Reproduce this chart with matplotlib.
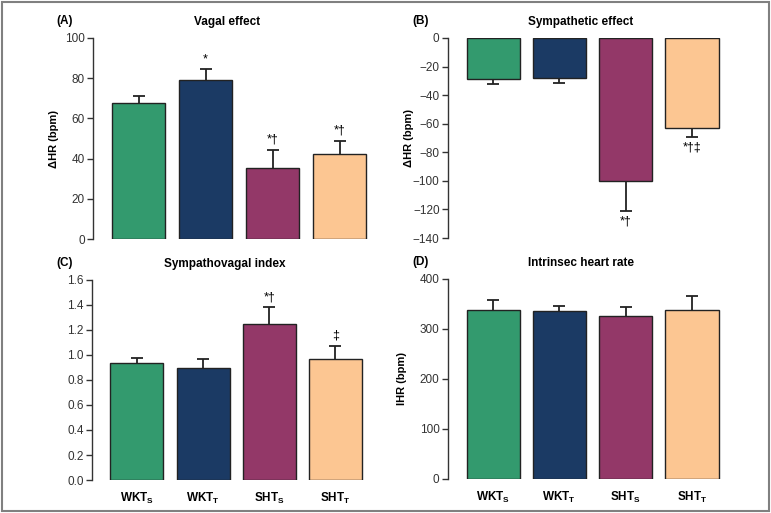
import numpy as np
import matplotlib
matplotlib.use("Agg")
import matplotlib.pyplot as plt
from matplotlib.patches import Rectangle

plt.rcParams['font.family'] = ['Liberation Sans', 'DejaVu Sans']

groups = ['WKT$_\\mathregular{S}$', 'WKT$_\\mathregular{T}$', 'SHT$_\\mathregular{S}$', 'SHT$_\\mathregular{T}$']
colors = ['#339a6e', '#1b3a64', '#933868', '#fcc692']

vagal = [67.5, 79, 35.5, 42.5]
vagal_err = [3.5, 5.5, 9, 6.5]
vagal_sig = ['', '*', '*†', '*†']

symp = [-29, -28, -100, -63]
symp_err = [3, 3.5, 21, 6.5]
symp_sig = ['', '', '*†', '*†‡']

index = [0.935, 0.895, 1.245, 0.97]
index_err = [0.04, 0.07, 0.135, 0.105]
index_sig = ['', '', '*†', '‡']

ihr = [338, 335, 326, 338]
ihr_err = [19, 11, 18, 27]

fig = plt.figure(figsize=(7.71, 5.13), dpi=100)
fig.patches.append(Rectangle((0.002, 0.003), 0.995, 0.993, transform=fig.transFigure,
                             fill=False, edgecolor='#808080', linewidth=1.5))

x = np.arange(4)


def panel(rect, vals, errs, ylim, yticks, ylabel, labelx, title, letter, sig=None, down=False,
          xlabels=False, fmt='{:.0f}'):
    ax = fig.add_axes(rect)
    vals = np.array(vals)
    errs = np.array(errs)
    ends = vals - errs if down else vals + errs
    ax.vlines(x, vals, ends, color='#222222', linewidth=1.3, zorder=1)
    ax.hlines(ends, x - 0.09, x + 0.09, color='#222222', linewidth=1.3, zorder=1)
    ax.bar(x, vals, width=0.8, color=colors, edgecolor='#222222', linewidth=1.0, zorder=2)
    ax.set_xlim(-0.68, 3.68)
    ax.set_ylim(*ylim)
    ax.set_yticks(yticks)
    ax.set_yticklabels([fmt.format(t).replace('-', '\u2212') for t in yticks])
    ax.tick_params(axis='y', labelsize=8.5, length=4, width=1, colors='#333333', pad=2)
    ax.spines[['top', 'right', 'bottom']].set_visible(False)
    ax.spines['left'].set_linewidth(1.0)
    ax.spines['left'].set_color('#333333')
    if ylabel:
        ax.set_ylabel(ylabel, fontsize=8, fontweight='bold')
        ax.yaxis.set_label_coords(labelx, 0.5)
    if xlabels:
        ax.set_xticks(x)
        ax.set_xticklabels(groups, fontsize=8.5, fontweight='bold')
        ax.tick_params(axis='x', length=0, pad=8)
    else:
        ax.set_xticks([])
    ax.text(0.46, 1.05, title, transform=ax.transAxes, ha='center', va='bottom',
            fontsize=8.5, fontweight='bold')
    ax.text(-0.096, 1.055, letter, transform=ax.transAxes, ha='center', va='bottom',
            fontsize=8.5, fontweight='bold')
    if sig:
        for i, s in enumerate(sig):
            if not s:
                continue
            if down:
                ax.annotate(s, (x[i], ends[i]), xytext=(0, -3),
                            textcoords='offset points', ha='center', va='top', fontsize=9)
            else:
                ax.annotate(s, (x[i], ends[i]), xytext=(0, 3),
                            textcoords='offset points', ha='center', va='bottom', fontsize=9)
    return ax


panel([0.1206, 0.534, 0.379, 0.392], vagal, vagal_err, (0, 100), range(0, 101, 20),
      '\u0394HR (bpm)', -0.116, 'Vagal effect', '(A)', sig=vagal_sig)
panel([0.581, 0.536, 0.375, 0.390], symp, symp_err, (-140, 0), range(-140, 1, 20),
      '\u0394HR (bpm)', -0.118, 'Sympathetic effect', '(B)', sig=symp_sig, down=True)
panel([0.1193, 0.0643, 0.374, 0.390], index, index_err, (0, 1.6), np.arange(0, 1.61, 0.2),
      '', 0, 'Sympathovagal index', '(C)', sig=index_sig, xlabels=True, fmt='{:.1f}')
panel([0.581, 0.0663, 0.375, 0.390], ihr, ihr_err, (0, 400), range(0, 401, 100),
      'IHR (bpm)', -0.142, 'Intrinsec heart rate', '(D)', xlabels=True)

fig.savefig('out.png', dpi=100)
